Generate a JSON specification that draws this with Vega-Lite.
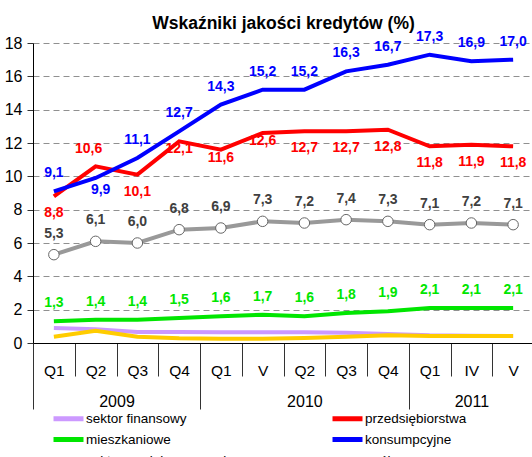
{
  "$schema": "https://vega.github.io/schema/vega-lite/v6.json",
  "autosize": {"type": "none"},
  "width": 501,
  "height": 300,
  "padding": {"left": 33, "top": 43, "right": 0, "bottom": 114},
  "config": {
    "font": "Liberation Sans",
    "view": {"stroke": null},
    "locale": {"number": {"decimal": ",", "thousands": " ", "grouping": [3], "currency": ["", " zł"]}}
  },
  "title": {"text": "Wskaźniki jakości kredytów (%)", "fontSize": 17.5, "fontWeight": "bold", "color": "#000000", "anchor": "middle", "offset": -2.5, "font": "Liberation Sans"},
  "data": {"values": [
    {"okres": "2009 Q1", "seria": "sektor finansowy", "v": 0.9},
    {"okres": "2009 Q2", "seria": "sektor finansowy", "v": 0.82},
    {"okres": "2009 Q3", "seria": "sektor finansowy", "v": 0.66},
    {"okres": "2009 Q4", "seria": "sektor finansowy", "v": 0.66},
    {"okres": "2010 Q1", "seria": "sektor finansowy", "v": 0.64},
    {"okres": "2010 V", "seria": "sektor finansowy", "v": 0.64},
    {"okres": "2010 Q2", "seria": "sektor finansowy", "v": 0.64},
    {"okres": "2010 Q3", "seria": "sektor finansowy", "v": 0.62},
    {"okres": "2010 Q4", "seria": "sektor finansowy", "v": 0.54},
    {"okres": "2011 Q1", "seria": "sektor finansowy", "v": 0.46},
    {"okres": "2011 IV", "seria": "sektor finansowy", "v": 0.44},
    {"okres": "2011 V", "seria": "sektor finansowy", "v": 0.42},
    {"okres": "2009 Q1", "seria": "przedsiębiorstwa", "v": 8.8},
    {"okres": "2009 Q2", "seria": "przedsiębiorstwa", "v": 10.6},
    {"okres": "2009 Q3", "seria": "przedsiębiorstwa", "v": 10.1},
    {"okres": "2009 Q4", "seria": "przedsiębiorstwa", "v": 12.1},
    {"okres": "2010 Q1", "seria": "przedsiębiorstwa", "v": 11.6},
    {"okres": "2010 V", "seria": "przedsiębiorstwa", "v": 12.6},
    {"okres": "2010 Q2", "seria": "przedsiębiorstwa", "v": 12.7},
    {"okres": "2010 Q3", "seria": "przedsiębiorstwa", "v": 12.7},
    {"okres": "2010 Q4", "seria": "przedsiębiorstwa", "v": 12.8},
    {"okres": "2011 Q1", "seria": "przedsiębiorstwa", "v": 11.8},
    {"okres": "2011 IV", "seria": "przedsiębiorstwa", "v": 11.9},
    {"okres": "2011 V", "seria": "przedsiębiorstwa", "v": 11.8},
    {"okres": "2009 Q1", "seria": "mieszkaniowe", "v": 1.3},
    {"okres": "2009 Q2", "seria": "mieszkaniowe", "v": 1.4},
    {"okres": "2009 Q3", "seria": "mieszkaniowe", "v": 1.4},
    {"okres": "2009 Q4", "seria": "mieszkaniowe", "v": 1.5},
    {"okres": "2010 Q1", "seria": "mieszkaniowe", "v": 1.6},
    {"okres": "2010 V", "seria": "mieszkaniowe", "v": 1.7},
    {"okres": "2010 Q2", "seria": "mieszkaniowe", "v": 1.6},
    {"okres": "2010 Q3", "seria": "mieszkaniowe", "v": 1.8},
    {"okres": "2010 Q4", "seria": "mieszkaniowe", "v": 1.9},
    {"okres": "2011 Q1", "seria": "mieszkaniowe", "v": 2.1},
    {"okres": "2011 IV", "seria": "mieszkaniowe", "v": 2.1},
    {"okres": "2011 V", "seria": "mieszkaniowe", "v": 2.1},
    {"okres": "2009 Q1", "seria": "konsumpcyjne", "v": 9.1},
    {"okres": "2009 Q2", "seria": "konsumpcyjne", "v": 9.9},
    {"okres": "2009 Q3", "seria": "konsumpcyjne", "v": 11.1},
    {"okres": "2009 Q4", "seria": "konsumpcyjne", "v": 12.7},
    {"okres": "2010 Q1", "seria": "konsumpcyjne", "v": 14.3},
    {"okres": "2010 V", "seria": "konsumpcyjne", "v": 15.2},
    {"okres": "2010 Q2", "seria": "konsumpcyjne", "v": 15.2},
    {"okres": "2010 Q3", "seria": "konsumpcyjne", "v": 16.3},
    {"okres": "2010 Q4", "seria": "konsumpcyjne", "v": 16.7},
    {"okres": "2011 Q1", "seria": "konsumpcyjne", "v": 17.3},
    {"okres": "2011 IV", "seria": "konsumpcyjne", "v": 16.9},
    {"okres": "2011 V", "seria": "konsumpcyjne", "v": 17.0},
    {"okres": "2009 Q1", "seria": "sektor rząd. i samorząd.", "v": 0.38},
    {"okres": "2009 Q2", "seria": "sektor rząd. i samorząd.", "v": 0.74},
    {"okres": "2009 Q3", "seria": "sektor rząd. i samorząd.", "v": 0.38},
    {"okres": "2009 Q4", "seria": "sektor rząd. i samorząd.", "v": 0.28},
    {"okres": "2010 Q1", "seria": "sektor rząd. i samorząd.", "v": 0.26},
    {"okres": "2010 V", "seria": "sektor rząd. i samorząd.", "v": 0.26},
    {"okres": "2010 Q2", "seria": "sektor rząd. i samorząd.", "v": 0.3},
    {"okres": "2010 Q3", "seria": "sektor rząd. i samorząd.", "v": 0.38},
    {"okres": "2010 Q4", "seria": "sektor rząd. i samorząd.", "v": 0.46},
    {"okres": "2011 Q1", "seria": "sektor rząd. i samorząd.", "v": 0.42},
    {"okres": "2011 IV", "seria": "sektor rząd. i samorząd.", "v": 0.42},
    {"okres": "2011 V", "seria": "sektor rząd. i samorząd.", "v": 0.42},
    {"okres": "2009 Q1", "seria": "ogółem", "v": 5.3},
    {"okres": "2009 Q2", "seria": "ogółem", "v": 6.1},
    {"okres": "2009 Q3", "seria": "ogółem", "v": 6.0},
    {"okres": "2009 Q4", "seria": "ogółem", "v": 6.8},
    {"okres": "2010 Q1", "seria": "ogółem", "v": 6.9},
    {"okres": "2010 V", "seria": "ogółem", "v": 7.3},
    {"okres": "2010 Q2", "seria": "ogółem", "v": 7.2},
    {"okres": "2010 Q3", "seria": "ogółem", "v": 7.4},
    {"okres": "2010 Q4", "seria": "ogółem", "v": 7.3},
    {"okres": "2011 Q1", "seria": "ogółem", "v": 7.1},
    {"okres": "2011 IV", "seria": "ogółem", "v": 7.2},
    {"okres": "2011 V", "seria": "ogółem", "v": 7.1}
  ]},
  "resolve": {"axis": {"x": "independent"}},
  "encoding": {
    "x": {"field": "okres", "type": "ordinal", "scale": {"domain": ["2009 Q1","2009 Q2","2009 Q3","2009 Q4","2010 Q1","2010 V","2010 Q2","2010 Q3","2010 Q4","2011 Q1","2011 IV","2011 V"], "paddingInner": 0, "paddingOuter": 0}, "axis": null},
    "y": {"field": "v", "type": "quantitative", "scale": {"domain": [0, 18], "nice": false},
      "axis": {"title": null, "values": [0,2,4,6,8,10,12,14,16,18], "format": "d", "grid": true, "gridDash": [6, 4], "gridColor": "#909090", "gridWidth": 1, "domainColor": "#000000", "tickColor": "#333333", "tickSize": 6, "labelFontSize": 16, "labelColor": "#000000", "labelPadding": 5, "labelFont": "Liberation Sans"}}
  },
  "layer": [
    {
      "mark": {"type": "line", "strokeWidth": 4},
      "encoding": {
        "x": {"field": "okres", "type": "ordinal", "scale": {"domain": ["2009 Q1","2009 Q2","2009 Q3","2009 Q4","2010 Q1","2010 V","2010 Q2","2010 Q3","2010 Q4","2011 Q1","2011 IV","2011 V"], "paddingInner": 0, "paddingOuter": 0},
          "axis": {"title": null, "orient": "bottom", "labelExpr": "split(datum.value, ' ')[1]", "labelAngle": 0, "labelFontSize": 15.5, "labelColor": "#000000", "labelFont": "Liberation Sans", "labelBaseline": "middle", "labelPadding": {"condition": {"test": "indexof(['2009 Q1','2010 Q1','2011 Q1'], datum.value) >= 0", "value": -39}, "value": -6}, "tickOffset": -20.875, "labelOffset": 20.875, "tickColor": "#333333", "tickWidth": 1, "tickSize": {"condition": {"test": "indexof(['2009 Q1','2010 Q1','2011 Q1'], datum.value) >= 0", "value": 66}, "value": 33}, "domainColor": "#000000", "grid": false}},
        "color": {"field": "seria", "type": "nominal",
          "scale": {"domain": ["sektor finansowy", "mieszkaniowe", "sektor rząd. i samorząd.", "przedsiębiorstwa", "konsumpcyjne", "ogółem"], "range": ["#CC99FF", "#00E600", "#FFCC00", "#FF0000", "#0000FF", "#999999"]},
          "legend": {"title": null, "orient": "none", "legendX": 28, "legendY": 368, "columns": 2, "symbolType": "M-3,0H3", "symbolStrokeWidth": 5, "symbolSize": 100, "labelFontSize": 13.5, "labelColor": "#000000", "labelFont": "Liberation Sans", "rowPadding": 0, "columnPadding": 91, "labelOffset": 10, "padding": 0, "labelLimit": 300}},
        "order": {"value": null}
      }
    },
    {
      "transform": [{"filter": "datum.seria === 'ogółem'"}],
      "mark": {"type": "point", "filled": true, "fill": "#FFFFFF", "stroke": "#666666", "strokeWidth": 1, "size": 110, "opacity": 1},
      "encoding": {
        "x": {"field": "okres", "type": "ordinal", "scale": {"domain": ["2009 Q1","2009 Q2","2009 Q3","2009 Q4","2010 Q1","2010 V","2010 Q2","2010 Q3","2010 Q4","2011 Q1","2011 IV","2011 V"], "paddingInner": 0, "paddingOuter": 0},
          "axis": {"title": null, "orient": "bottom", "values": ["2009 Q2", "2010 Q2", "2011 IV"], "labelExpr": "slice(datum.value, 0, 4)", "labelAngle": 0, "labelFontSize": 16, "labelColor": "#000000", "labelFont": "Liberation Sans", "labelBaseline": "middle", "labelPadding": 58, "ticks": false, "domain": false, "grid": false, "labelOffset": {"condition": {"test": "datum.value === '2009 Q2'", "value": 20.875}, "value": 0}}}
      }
    },
    {
      "transform": [{"filter": "datum.seria === 'konsumpcyjne' && datum.okres !== '2009 Q2'"}],
      "mark": {"type": "text", "fontSize": 14, "fontWeight": "bold", "color": "#0000FF", "dy": -18},
      "encoding": {"text": {"field": "v", "type": "quantitative", "format": ".1f"}}
    },
    {
      "transform": [{"filter": "datum.seria === 'konsumpcyjne' && datum.okres === '2009 Q2'"}],
      "mark": {"type": "text", "fontSize": 14, "fontWeight": "bold", "color": "#0000FF", "dy": 12, "dx": 5},
      "encoding": {"text": {"field": "v", "type": "quantitative", "format": ".1f"}}
    },
    {
      "transform": [{"filter": "datum.seria === 'przedsiębiorstwa' && datum.okres === '2009 Q2'"}],
      "mark": {"type": "text", "fontSize": 14, "fontWeight": "bold", "color": "#FF0000", "dy": -17, "dx": -7},
      "encoding": {"text": {"field": "v", "type": "quantitative", "format": ".1f"}}
    },
    {
      "transform": [{"filter": "datum.seria === 'przedsiębiorstwa' && indexof(['2009 Q4','2010 Q1','2010 V'], datum.okres) >= 0"}],
      "mark": {"type": "text", "fontSize": 14, "fontWeight": "bold", "color": "#FF0000", "dy": 8},
      "encoding": {"text": {"field": "v", "type": "quantitative", "format": ".1f"}}
    },
    {
      "transform": [{"filter": "datum.seria === 'przedsiębiorstwa' && indexof(['2009 Q2','2009 Q4','2010 Q1','2010 V'], datum.okres) < 0"}],
      "mark": {"type": "text", "fontSize": 14, "fontWeight": "bold", "color": "#FF0000", "dy": 17},
      "encoding": {"text": {"field": "v", "type": "quantitative", "format": ".1f"}}
    },
    {
      "transform": [{"filter": "datum.seria === 'ogółem'"}],
      "mark": {"type": "text", "fontSize": 14, "fontWeight": "bold", "color": "#404040", "dy": -21},
      "encoding": {"text": {"field": "v", "type": "quantitative", "format": ".1f"}}
    },
    {
      "transform": [{"filter": "datum.seria === 'mieszkaniowe'"}],
      "mark": {"type": "text", "fontSize": 14, "fontWeight": "bold", "color": "#00E600", "dy": -18},
      "encoding": {"text": {"field": "v", "type": "quantitative", "format": ".1f"}}
    }
  ]
}
